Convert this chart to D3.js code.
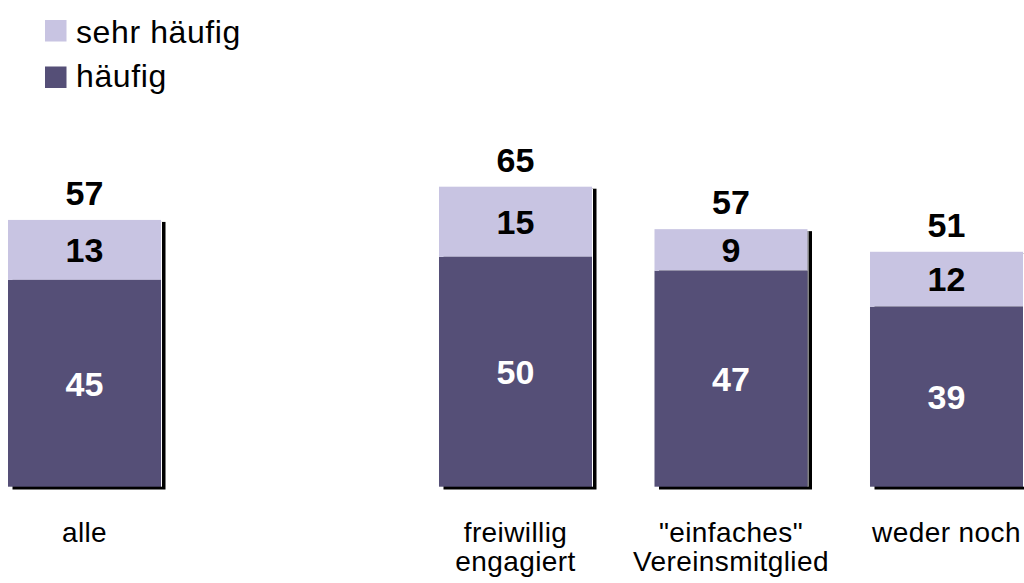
<!DOCTYPE html>
<html>
<head>
<meta charset="utf-8">
<script src="https://cdn.jsdelivr.net/npm/d3@7"></script>
<style>
  html, body { margin: 0; padding: 0; background: #fff; }
  svg { display: block; }
  text { font-family: "Liberation Sans", Arial, Helvetica, sans-serif; }
</style>
</head>
<body>
<svg id="chart" width="1024" height="583"></svg>
<script>
// ---- data ----
const slots = ["alle", "_gap", "freiwillig engagiert", "einfaches Vereinsmitglied", "weder noch"];
const categories = ["alle", "freiwillig engagiert", "einfaches Vereinsmitglied", "weder noch"];
const categoryLines = [["alle"], ["freiwillig", "engagiert"], ["\"einfaches\"", "Vereinsmitglied"], ["weder noch"]];
const haeufig = [44.8, 49.8, 46.8, 39.0];        // dark segment
const sehrHaeufig = [13.0, 15.2, 9.0, 11.9];     // light segment
const haeufigLabels = ["45", "50", "47", "39"];
const sehrHaeufigLabels = ["13", "15", "9", "12"];
const totalLabels = ["57", "65", "57", "51"];
const seriesNames = ["sehr häufig", "häufig"];
const colors = { "häufig": "#554f77", "sehr häufig": "#c8c4e2" };

// ---- drawing ----
const svg = d3.select("#chart");
const x = d3.scaleBand().domain(slots).range([8, 1023]).paddingInner(0.29).paddingOuter(0);
const y = d3.scaleLinear().domain([0, 65]).range([486.7, 186.7]);

const rows = categories.map((c, i) => ({
  cat: c, lines: categoryLines[i],
  dark: haeufig[i], light: sehrHaeufig[i],
  darkLab: haeufigLabels[i], lightLab: sehrHaeufigLabels[i], total: totalLabels[i]
}));

const g = svg.append("g");
const bw = x.bandwidth();

// shadows
g.selectAll("rect.shadow").data(rows).join("rect")
  .attr("class", "shadow")
  .attr("x", d => x(d.cat) + 4.5)
  .attr("y", d => y(d.dark + d.light) + 2)
  .attr("width", bw)
  .attr("height", d => y(0) - y(d.dark + d.light) + 0.8)
  .attr("fill", "#000");

// white separator between bar and shadow
g.selectAll("rect.gapline").data(rows).join("rect")
  .attr("x", d => x(d.cat) + bw)
  .attr("y", d => y(d.dark + d.light) + 2)
  .attr("width", 1)
  .attr("height", d => y(0) - y(d.dark + d.light) - 2)
  .attr("fill", "#fff");

// dark segments
g.selectAll("rect.dark").data(rows).join("rect")
  .attr("class", "dark")
  .attr("x", d => x(d.cat))
  .attr("y", d => y(d.dark))
  .attr("width", bw)
  .attr("height", d => y(0) - y(d.dark))
  .attr("fill", colors["häufig"]);

// light segments
g.selectAll("rect.light").data(rows).join("rect")
  .attr("class", "light")
  .attr("x", d => x(d.cat))
  .attr("y", d => y(d.dark + d.light))
  .attr("width", bw)
  .attr("height", d => y(d.dark) - y(d.dark + d.light))
  .attr("fill", colors["sehr häufig"]);

const numFont = 34;
// dark labels
g.selectAll("text.darkLab").data(rows).join("text")
  .attr("x", d => x(d.cat) + bw / 2)
  .attr("y", d => (y(0) + y(d.dark)) / 2)
  .attr("dy", "0.36em")
  .attr("text-anchor", "middle")
  .attr("font-weight", "bold")
  .attr("font-size", numFont)
  .attr("fill", "#fff")
  .text(d => d.darkLab);

// light labels
g.selectAll("text.lightLab").data(rows).join("text")
  .attr("x", d => x(d.cat) + bw / 2)
  .attr("y", d => (y(d.dark) + y(d.dark + d.light)) / 2)
  .attr("dy", "0.36em")
  .attr("text-anchor", "middle")
  .attr("font-weight", "bold")
  .attr("font-size", numFont)
  .attr("fill", "#000")
  .text(d => d.lightLab);

// totals
g.selectAll("text.total").data(rows).join("text")
  .attr("x", d => x(d.cat) + bw / 2)
  .attr("y", d => y(d.dark + d.light) - 15)
  .attr("text-anchor", "middle")
  .attr("font-weight", "bold")
  .attr("font-size", numFont)
  .attr("fill", "#000")
  .text(d => d.total);

// category labels
const cl = g.selectAll("text.cat").data(rows).join("text")
  .attr("text-anchor", "middle")
  .attr("font-size", 28)
  .attr("letter-spacing", 0.4)
  .attr("fill", "#000");
cl.selectAll("tspan").data(d => d.lines.map(l => ({ l, cat: d.cat })))
  .join("tspan")
  .attr("x", d => x(d.cat) + bw / 2)
  .attr("y", (d, i) => 542 + i * 28.5)
  .text(d => d.l);

// legend
const lg = svg.append("g");
seriesNames.forEach((s, i) => {
  lg.append("rect")
    .attr("x", 45).attr("y", 20 + i * 46.5)
    .attr("width", 21.5).attr("height", 21.5)
    .attr("fill", colors[s]);
  lg.append("text")
    .attr("x", 76).attr("y", 43 + i * 44)
    .attr("font-size", 32)
    .attr("letter-spacing", 0.6)
    .attr("fill", "#000")
    .text(s);
});
</script>
</body>
</html>
